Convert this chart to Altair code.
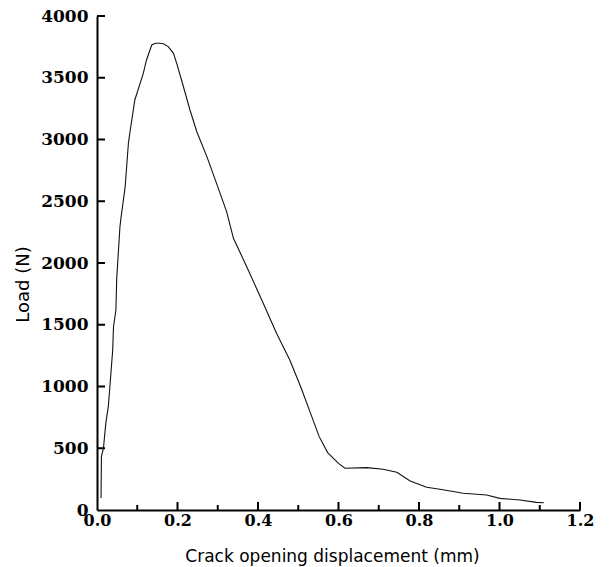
import altair as alt
import pandas as pd

# Crack opening displacement (mm) and load (N)
cod = [0.010, 0.011, 0.016, 0.022, 0.028, 0.032, 0.039, 0.041, 0.047, 0.049,
       0.057, 0.060, 0.070, 0.078, 0.082, 0.094, 0.115, 0.123, 0.136, 0.145,
       0.155, 0.165, 0.177, 0.190, 0.198, 0.210, 0.231, 0.248, 0.273, 0.297,
       0.322, 0.339, 0.372, 0.413, 0.446, 0.479, 0.507, 0.529, 0.552, 0.573,
       0.600, 0.616, 0.670, 0.711, 0.745, 0.778, 0.819, 0.852, 0.910, 0.968,
       1.001, 1.051, 1.092, 1.110]
load = [97, 432, 500, 705, 836, 998, 1296, 1484, 1619, 1875,
        2294, 2375, 2618, 2969, 3063, 3320, 3536, 3644, 3765, 3779,
        3779, 3775, 3752, 3698, 3617, 3482, 3239, 3063, 2861, 2645,
        2416, 2200, 1970, 1674, 1431, 1215, 990, 797, 594, 465,
        378, 338, 343, 330, 305, 235, 184, 168, 135, 121,
        94, 81, 62, 59]

x_major = [0.2, 0.4, 0.6, 0.8, 1.0, 1.2]
x_minor = [0.1, 0.3, 0.5, 0.7, 0.9, 1.1]
x_labels = [0.0, 0.2, 0.4, 0.6, 0.8, 1.0, 1.2]
y_ticks = [500, 1000, 1500, 2000, 2500, 3000, 3500, 4000]
y_labels = [0, 500, 1000, 1500, 2000, 2500, 3000, 3500, 4000]

curve = pd.DataFrame({"cod": cod, "load": load})
xmaj = pd.DataFrame({"t": x_major})
xmin = pd.DataFrame({"t": x_minor})
yt = pd.DataFrame({"t": y_ticks})

label_font = "DejaVu Serif"
title_font = "DejaVu Sans"

xscale = alt.Scale(domain=[0, 1.2], nice=False)
yscale = alt.Scale(domain=[0, 4000], nice=False)

xaxis = alt.Axis(values=x_labels, format=".1f", grid=False, ticks=False,
                 domainColor="black", domainWidth=2,
                 labelFont=label_font, labelFontWeight="bold",
                 labelFontSize=16, labelColor="black", labelPadding=2,
                 labelFlush=False, labelOverlap=False,
                 title="Crack opening displacement (mm)",
                 titleFont=title_font, titleFontWeight="normal",
                 titleFontSize=17, titleColor="black",
                 titleX=235, titleY=51, titleAlign="center",
                 titleBaseline="alphabetic")
yaxis = alt.Axis(values=y_labels, format="d", grid=False, ticks=False,
                 domainColor="black", domainWidth=2,
                 labelFont=label_font, labelFontWeight="bold",
                 labelFontSize=17, labelColor="black", labelPadding=9,
                 labelFlush=False, labelOverlap=False,
                 title="Load (N)", titleFont=title_font,
                 titleFontWeight="normal", titleFontSize=18,
                 titleColor="black", titleAngle=-90,
                 titleX=-74, titleY=268, titleAlign="center",
                 titleBaseline="middle")

major_ticks = alt.Chart(xmaj).mark_rule(color="black", strokeWidth=2,
                                        y2Offset=-8).encode(
    x=alt.X("t:Q", scale=xscale, axis=xaxis),
    y=alt.YDatum(0, scale=yscale, axis=yaxis), y2=alt.Y2Datum(0))
minor_ticks = alt.Chart(xmin).mark_rule(color="black", strokeWidth=2,
                                        y2Offset=-5).encode(
    x=alt.X("t:Q", scale=xscale), y=alt.YDatum(0), y2=alt.Y2Datum(0))
y_tick_marks = alt.Chart(yt).mark_rule(color="black", strokeWidth=2,
                                       x2Offset=8).encode(
    y=alt.Y("t:Q", scale=yscale), x=alt.XDatum(0), x2=alt.X2Datum(0))

line = alt.Chart(curve).mark_line(color="#111111", strokeWidth=1.1).encode(
    x=alt.X("cod:Q", scale=xscale),
    y=alt.Y("load:Q", scale=yscale),
)

chart = alt.layer(major_ticks, minor_ticks, y_tick_marks, line).properties(
    width=483, height=494,
    autosize="none",
    padding={"left": 97, "top": 16, "right": 29, "bottom": 57},
).configure_view(strokeWidth=0)

chart.save("out.html", embed_options={"renderer": "svg", "actions": False})
